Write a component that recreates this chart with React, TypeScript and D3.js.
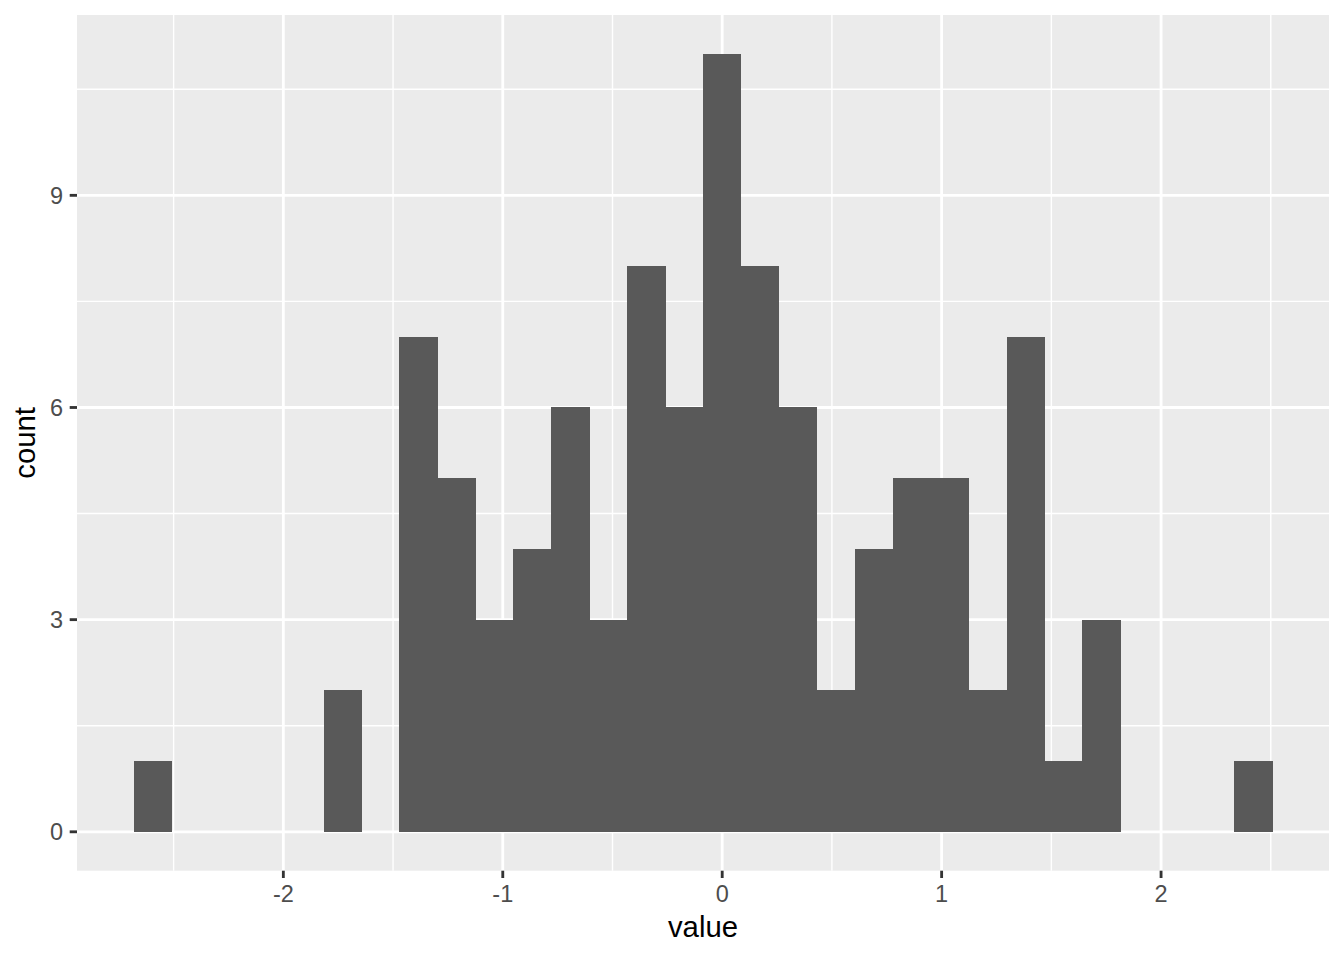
import React from "react";
import * as d3 from "d3";

// Histogram data (30 bins)
const binStart = -2.681;
const binWidth = 0.1729;
const counts = [1, 0, 0, 0, 0, 2, 0, 7, 5, 3, 4, 6, 3, 8, 6, 11, 8, 6, 2, 4, 5, 5, 2, 7, 1, 3, 0, 0, 0, 1];
const xMajorTicks = [-2, -1, 0, 1, 2];
const xMinorTicks = [-2.5, -1.5, -0.5, 0.5, 1.5, 2.5];
const yMajorTicks = [0, 3, 6, 9];
const yMinorTicks = [1.5, 4.5, 7.5, 10.5];
const xLabel = "value";
const yLabel = "count";

const W = 1344;
const H = 960;
const panel = { left: 77, right: 1329, top: 15, bottom: 870.7 };
const FONT = "'Liberation Sans', Arial, Helvetica, sans-serif";

export default function App() {
  const lo = binStart;
  const hi = binStart + binWidth * counts.length;
  const padX = (hi - lo) * 0.05;
  const x = d3.scaleLinear().domain([lo - padX, hi + padX]).range([panel.left, panel.right]);
  const maxC = d3.max(counts) as number;
  const y = d3.scaleLinear().domain([-maxC * 0.05, maxC * 1.05]).range([panel.bottom, panel.top]);

  const bins = counts.map((c, i) => ({ x0: binStart + i * binWidth, x1: binStart + (i + 1) * binWidth, c }));

  return (
    <svg width={W} height={H} style={{ position: "absolute", left: 0, top: 0, background: "#fff" }}>
      <rect x={panel.left} y={panel.top} width={panel.right - panel.left} height={panel.bottom - panel.top} fill="#EBEBEB" />
      {xMinorTicks.map((t) => (
        <line key={"xm" + t} x1={x(t)} x2={x(t)} y1={panel.top} y2={panel.bottom} stroke="#fff" strokeWidth={1.42} />
      ))}
      {yMinorTicks.map((t) => (
        <line key={"ym" + t} y1={y(t)} y2={y(t)} x1={panel.left} x2={panel.right} stroke="#fff" strokeWidth={1.42} />
      ))}
      {xMajorTicks.map((t) => (
        <line key={"xM" + t} x1={x(t)} x2={x(t)} y1={panel.top} y2={panel.bottom} stroke="#fff" strokeWidth={2.84} />
      ))}
      {yMajorTicks.map((t) => (
        <line key={"yM" + t} y1={y(t)} y2={y(t)} x1={panel.left} x2={panel.right} stroke="#fff" strokeWidth={2.84} />
      ))}
      <g shapeRendering="crispEdges">
        {bins.filter((b) => b.c > 0).map((b, i) => (
          <rect key={"b" + i} x={x(b.x0)} width={x(b.x1) - x(b.x0) + 0.5} y={y(b.c)} height={y(0) - y(b.c)} fill="#595959" />
        ))}
      </g>
      {xMajorTicks.map((t) => (
        <g key={"xt" + t}>
          <line x1={x(t)} x2={x(t)} y1={panel.bottom} y2={panel.bottom + 7.3} stroke="#333333" strokeWidth={2.84} />
          <text x={x(t)} y={902} textAnchor="middle" fontFamily={FONT} fontSize={23.5} fill="#4D4D4D">
            {t}
          </text>
        </g>
      ))}
      {yMajorTicks.map((t) => (
        <g key={"yt" + t}>
          <line x1={panel.left - 7.3} x2={panel.left} y1={y(t)} y2={y(t)} stroke="#333333" strokeWidth={2.84} />
          <text x={63} y={y(t)} dy="0.35em" textAnchor="end" fontFamily={FONT} fontSize={23.5} fill="#4D4D4D">
            {t}
          </text>
        </g>
      ))}
      <text x={(panel.left + panel.right) / 2} y={937} textAnchor="middle" fontFamily={FONT} fontSize={29.3} fill="#000">
        {xLabel}
      </text>
      <text
        transform={`translate(35,${(panel.top + panel.bottom) / 2}) rotate(-90)`}
        textAnchor="middle"
        fontFamily={FONT}
        fontSize={29.3}
        fill="#000"
      >
        {yLabel}
      </text>
    </svg>
  );
}
